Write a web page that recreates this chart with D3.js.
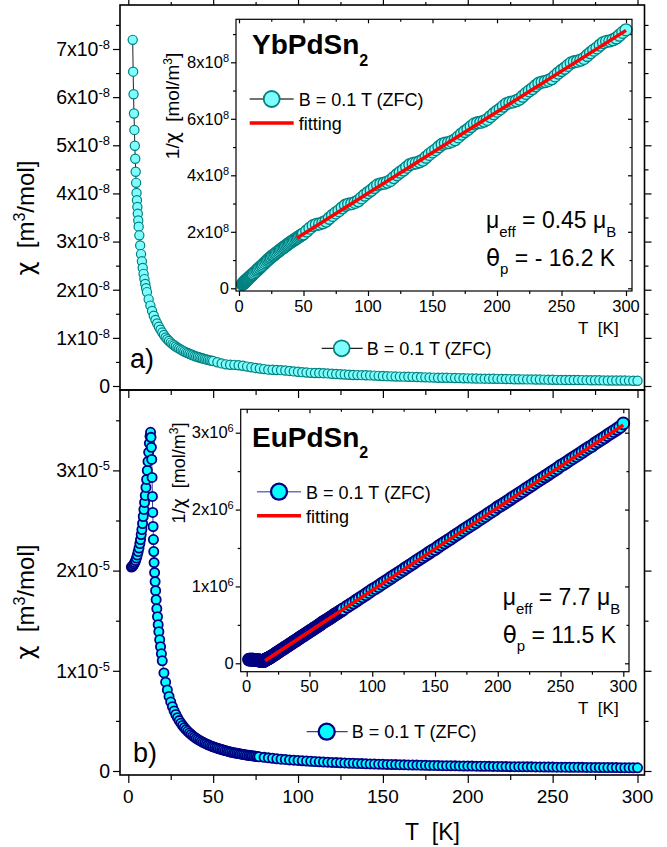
<!DOCTYPE html>
<html lang="en">
<head>
    <meta charset="UTF-8">
    <title>chi vs T</title>
    <style>
        body { margin: 0; background: #fff; }
        svg { display: block; font-family: "Liberation Sans", Arial, sans-serif; }
        .greek { font-family: "DejaVu Sans", sans-serif; }
    </style>
    <script src="https://d3js.org/d3.v7.min.js"></script>
</head>
<body>
    <div id="chart"></div>
    <script>
        // ---------- data ----------
        // temperature grids (K)
        const tMid = [21, 22, 23, 24, 25, 26, 27, 28, 29, 30, 31, 32, 33, 34, 35,
            36, 37, 38, 39, 40, 41, 42, 43, 44, 45, 46, 47, 48, 49, 50]
        const tHigh = [52.5, 55, 57.5, 60, 62.5, 65, 67.5, 70, 72.5, 75,
            77.5, 80, 82.5, 85, 87.5, 90, 92.5, 95, 97.5, 100,
            102.5, 105, 107.5, 110, 112.5, 115, 117.5, 120, 122.5, 125,
            127.5, 130, 132.5, 135, 137.5, 140, 142.5, 145, 147.5, 150,
            152.5, 155, 157.5, 160, 162.5, 165, 167.5, 170, 172.5, 175,
            177.5, 180, 182.5, 185, 187.5, 190, 192.5, 195, 197.5, 200,
            202.5, 205, 207.5, 210, 212.5, 215, 217.5, 220, 222.5, 225,
            227.5, 230, 232.5, 235, 237.5, 240, 242.5, 245, 247.5, 250,
            252.5, 255, 257.5, 260, 262.5, 265, 267.5, 270, 272.5, 275,
            277.5, 280, 282.5, 285, 287.5, 290, 292.5, 295, 297.5, 300]

        // YbPdSn2 : T (K), chi (x1e-8 m3/mol), 1/chi (x1e8 mol/m3)
        const ybT = [2.6, 2.85, 3.1, 3.35, 3.6, 3.85, 4.1, 4.35, 4.6, 4.85, 5.1, 5.35, 5.6, 5.85, 6.1,
            6.5, 7, 7.5, 8, 8.5, 9, 9.5, 10, 10.5, 11, 12, 13, 14, 15, 16, 17, 18, 19, 20].concat(tMid, tHigh)
        const ybChi = [7.19, 6.53, 6.06, 5.66, 5.32, 4.99, 4.72, 4.45, 4.22, 4.01, 3.86, 3.72, 3.58, 3.44, 3.31,
            3.13, 2.92, 2.74, 2.59, 2.45, 2.33, 2.22, 2.12, 2.03, 1.95, 1.80, 1.67, 1.56, 1.46, 1.37, 1.30, 1.23, 1.17, 1.11,
            1.06, 1.01, 0.971, 0.935, 0.901, 0.870, 0.847, 0.820, 0.797, 0.775, 0.755, 0.735, 0.717, 0.699, 0.685,
            0.669, 0.654, 0.639, 0.625, 0.613, 0.602, 0.592, 0.581, 0.571, 0.562, 0.552, 0.542, 0.533, 0.526, 0.518,
            0.493, 0.469, 0.450, 0.442, 0.439, 0.431, 0.420, 0.403, 0.388, 0.375,
            0.364, 0.351, 0.340, 0.336, 0.333, 0.329, 0.323, 0.313, 0.303, 0.295,
            0.288, 0.280, 0.273, 0.270, 0.269, 0.266, 0.262, 0.255, 0.249, 0.243,
            0.239, 0.233, 0.228, 0.226, 0.225, 0.223, 0.220, 0.216, 0.211, 0.207,
            0.204, 0.200, 0.196, 0.195, 0.194, 0.192, 0.190, 0.187, 0.183, 0.180,
            0.178, 0.175, 0.172, 0.171, 0.170, 0.169, 0.167, 0.164, 0.162, 0.159,
            0.157, 0.155, 0.153, 0.152, 0.152, 0.151, 0.149, 0.147, 0.145, 0.143,
            0.141, 0.139, 0.138, 0.137, 0.137, 0.136, 0.135, 0.133, 0.131, 0.130,
            0.128, 0.127, 0.125, 0.125, 0.124, 0.124, 0.123, 0.121, 0.120, 0.119,
            0.118, 0.116, 0.115, 0.114, 0.114, 0.114, 0.113, 0.112, 0.110, 0.109]
        const ybInv = [0.139, 0.153, 0.165, 0.177, 0.188, 0.200, 0.212, 0.225, 0.237, 0.249, 0.259, 0.269, 0.279, 0.291, 0.302,
            0.320, 0.342, 0.365, 0.386, 0.408, 0.429, 0.450, 0.472, 0.493, 0.513, 0.556, 0.599, 0.641, 0.685, 0.730, 0.769, 0.813, 0.855, 0.901,
            0.945, 0.99, 1.03, 1.07, 1.11, 1.15, 1.18, 1.22, 1.255, 1.29, 1.325, 1.36, 1.395, 1.43, 1.46,
            1.495, 1.53, 1.565, 1.60, 1.63, 1.66, 1.69, 1.72, 1.75, 1.78, 1.81, 1.845, 1.875, 1.90, 1.93,
            2.03, 2.13, 2.22, 2.26, 2.28, 2.32, 2.38, 2.48, 2.58, 2.67,
            2.75, 2.85, 2.94, 2.98, 3.00, 3.04, 3.10, 3.20, 3.30, 3.39,
            3.47, 3.57, 3.66, 3.70, 3.72, 3.76, 3.82, 3.92, 4.02, 4.11,
            4.19, 4.29, 4.38, 4.42, 4.44, 4.48, 4.54, 4.64, 4.74, 4.83,
            4.91, 5.01, 5.10, 5.14, 5.16, 5.20, 5.26, 5.36, 5.46, 5.55,
            5.63, 5.73, 5.82, 5.86, 5.88, 5.92, 5.98, 6.08, 6.18, 6.27,
            6.35, 6.45, 6.54, 6.58, 6.60, 6.64, 6.70, 6.80, 6.90, 6.99,
            7.07, 7.17, 7.26, 7.30, 7.32, 7.36, 7.42, 7.52, 7.62, 7.71,
            7.79, 7.89, 7.98, 8.02, 8.04, 8.08, 8.14, 8.24, 8.34, 8.43,
            8.51, 8.61, 8.70, 8.74, 8.76, 8.80, 8.86, 8.96, 9.06, 9.15]
        const ybFitT = [45, 300]
        const ybFitInv = [1.78, 9.13]

        // EuPdSn2 : T (K), chi (x1e-5 m3/mol), 1/chi (x1e6 mol/m3)
        const euT = [1.8, 2.3, 2.8, 3.3, 3.8, 4.3, 4.8, 5.3, 5.8, 6.3, 6.8, 7.2, 7.6, 8.0, 8.4, 8.8, 9.2, 9.6,
            10.0, 10.4, 10.8, 11.2, 11.6, 12.0, 12.4, 12.8, 13.1,
            13.4, 13.6, 13.8, 14.0, 14.2, 14.4, 14.6, 14.8, 15.0, 15.2, 15.5, 15.8, 16.1, 16.4, 16.8,
            17.2, 17.6, 18.0, 18.5, 19.0, 19.5, 20.0].concat(tMid,
            [51, 52, 53, 54, 55, 56, 57, 58, 59, 60, 61, 62, 63, 64, 65, 66, 67, 68, 69, 70, 71, 72, 73, 74, 75, 76, 77],
            tHigh.slice(11))
        const euChi = [2.035, 2.04, 2.05, 2.065, 2.08, 2.10, 2.125, 2.155, 2.19, 2.225, 2.27, 2.31, 2.36, 2.41, 2.47, 2.54, 2.61, 2.68,
            2.75, 2.83, 2.91, 3.00, 3.09, 3.18, 3.27, 3.34, 3.38,
            3.33, 3.23, 3.11, 2.93, 2.74, 2.58, 2.44, 2.31, 2.19, 2.08, 1.98, 1.89, 1.80, 1.71, 1.62,
            1.54, 1.46, 1.39, 1.31, 1.24, 1.17, 1.10,
            0.979, 0.886, 0.809, 0.744, 0.689, 0.642, 0.600, 0.564, 0.532, 0.503, 0.477, 0.454, 0.433, 0.413, 0.396,
            0.380, 0.365, 0.351, 0.338, 0.326, 0.315, 0.305, 0.295, 0.286, 0.278, 0.270, 0.262, 0.255, 0.248, 0.242,
            0.2355, 0.2297, 0.2241, 0.2189, 0.2138, 0.2090, 0.2044, 0.2000, 0.1958, 0.1905, 0.1868, 0.1832, 0.1806, 0.1772,
            0.1739, 0.1707, 0.1676, 0.1646, 0.1618, 0.1582, 0.1563, 0.1538, 0.1513, 0.1488, 0.1465, 0.1442, 0.1420,
            0.136, 0.131, 0.127, 0.122, 0.118, 0.115, 0.111, 0.108, 0.105,
            0.102, 0.0995, 0.0969, 0.0944, 0.0921, 0.0899, 0.0877, 0.0858, 0.0838, 0.0820,
            0.0802, 0.0785, 0.0769, 0.0753, 0.0738, 0.0724, 0.0710, 0.0697, 0.0684, 0.0672,
            0.0660, 0.0648, 0.0637, 0.0627, 0.0616, 0.0606, 0.0596, 0.0587, 0.0578, 0.0569,
            0.0560, 0.0552, 0.0544, 0.0536, 0.0529, 0.0521, 0.0514, 0.0507, 0.0500, 0.0494,
            0.0487, 0.0481, 0.0475, 0.0469, 0.0463, 0.0457, 0.0451, 0.0446, 0.0441, 0.0436,
            0.0431, 0.0426, 0.0421, 0.0416, 0.0412, 0.0407, 0.0403, 0.0398, 0.0394, 0.0390,
            0.0386, 0.0382, 0.0378, 0.0374, 0.0371, 0.0367, 0.0363, 0.0360, 0.0356, 0.0353,
            0.0350, 0.0347, 0.0343, 0.0340, 0.0337, 0.0334, 0.0331, 0.0328, 0.0325, 0.0322]
        const euInv = [0.0491, 0.0490, 0.0488, 0.0484, 0.0481, 0.0476, 0.0471, 0.0464, 0.0457, 0.0449, 0.0441, 0.0433, 0.0424, 0.0415, 0.0405, 0.0394, 0.0383, 0.0373,
            0.0364, 0.0353, 0.0344, 0.0333, 0.0324, 0.0314, 0.0306, 0.0299, 0.0296,
            0.0300, 0.0310, 0.0322, 0.0341, 0.0365, 0.0388, 0.0410, 0.0433, 0.0457, 0.0481, 0.0505, 0.0529, 0.0556, 0.0585, 0.0617,
            0.0649, 0.0685, 0.0719, 0.0763, 0.0806, 0.0855, 0.0909,
            0.102, 0.113, 0.124, 0.134, 0.145, 0.156, 0.167, 0.177, 0.188, 0.199, 0.210, 0.220, 0.231, 0.242, 0.253,
            0.263, 0.274, 0.285, 0.296, 0.306, 0.317, 0.328, 0.339, 0.349, 0.360, 0.371, 0.382, 0.392, 0.403, 0.414,
            0.425, 0.435, 0.446, 0.457, 0.468, 0.478, 0.489, 0.500, 0.511, 0.525, 0.536, 0.546, 0.554, 0.564,
            0.575, 0.586, 0.597, 0.607, 0.618, 0.632, 0.640, 0.650, 0.661, 0.672, 0.683, 0.693, 0.704,
            0.736, 0.763, 0.790, 0.817, 0.844, 0.871, 0.898, 0.925, 0.956,
            0.978, 1.005, 1.032, 1.059, 1.086, 1.113, 1.140, 1.166, 1.193, 1.220,
            1.247, 1.274, 1.301, 1.328, 1.355, 1.381, 1.408, 1.435, 1.462, 1.484,
            1.516, 1.543, 1.570, 1.596, 1.623, 1.650, 1.677, 1.704, 1.731, 1.758,
            1.785, 1.811, 1.838, 1.865, 1.892, 1.919, 1.946, 1.973, 2.000, 2.031,
            2.053, 2.080, 2.107, 2.134, 2.161, 2.188, 2.215, 2.241, 2.268, 2.295,
            2.322, 2.349, 2.376, 2.403, 2.430, 2.456, 2.483, 2.510, 2.537, 2.569,
            2.591, 2.618, 2.645, 2.671, 2.698, 2.725, 2.752, 2.779, 2.806, 2.829,
            2.860, 2.886, 2.913, 2.940, 2.967, 2.994, 3.021, 3.048, 3.075, 3.12]
        const euFitT = [14.6, 300]
        const euFitInv = [0.033, 3.10]

        // tick values
        const tMajor = [0, 50, 100, 150, 200, 250, 300]
        const tMinor = [25, 75, 125, 175, 225, 275]
        const ybChiMajor = [0, 1, 2, 3, 4, 5, 6, 7]
        const ybChiMinor = [0.5, 1.5, 2.5, 3.5, 4.5, 5.5, 6.5, 7.5]
        const euChiMajor = [0, 1, 2, 3]
        const euChiMinor = [0.5, 1.5, 2.5, 3.5]
        const ybInvMajor = [0, 2, 4, 6, 8]
        const ybInvMinor = [1, 3, 5, 7, 9]
        const euInvMajor = [0, 1, 2, 3]
        const euInvMinor = [0.5, 1.5, 2.5]

        const legendText = "B = 0.1 T (ZFC)"
        const nb = "\u00a0"

        // ---------- drawing ----------
        const svg = d3.select("#chart").append("svg").attr("width", 667).attr("height", 847)

        // main temperature axis, shared by both panels
        const x = d3.scaleLinear().domain([0, 300]).range([128.3, 637.5])

        function addTicks(g, scale, vals, side, pos, len) {
            const ax = side === "left" ? d3.axisLeft(scale) : side === "right" ? d3.axisRight(scale)
                : side === "top" ? d3.axisTop(scale) : d3.axisBottom(scale)
            ax.tickValues(vals).tickSize(len).tickFormat("")
            const tr = (side === "left" || side === "right") ? `translate(${pos},0)` : `translate(0,${pos})`
            const a = g.append("g").attr("transform", tr).call(ax)
            a.select(".domain").remove()
            a.selectAll("line").attr("stroke", "#000").attr("stroke-width", 1.2)
        }

        // "7x10^-8" style labels on a vertical axis
        function sciLabels(g, scale, vals, xEnd, size, exp, expSize, lift) {
            g.selectAll(null).data(vals).join("text")
                .attr("x", xEnd).attr("y", d => scale(d)).attr("dy", "0.35em")
                .attr("text-anchor", "end").attr("font-size", size)
                .each(function (d) {
                    const t = d3.select(this)
                    if (d === 0) { t.text("0"); return }
                    t.append("tspan").text(d + "x10")
                    t.append("tspan").attr("dy", -lift).attr("font-size", expSize).text(exp)
                })
        }

        function drawMain(o) {
            const g = svg.append("g")
            const f = o.frame
            const y = d3.scaleLinear().domain(o.yDomain).range(o.yRange)

            addTicks(g, y, o.yMajor, "left", f.l, 7)
            addTicks(g, y, o.yMinor.filter(v => y(v) > f.t), "left", f.l, 4)
            addTicks(g, y, o.yMajor, "right", f.r, 7)
            addTicks(g, y, o.yMinor.filter(v => y(v) > f.t), "right", f.r, 4)
            addTicks(g, x, tMajor, "bottom", f.b, 8)
            addTicks(g, x, tMinor, "bottom", f.b, 5)
            if (o.topTicks) {
                addTicks(g, x, tMajor, "top", f.t, 5)
                addTicks(g, x, tMinor, "top", f.t, 3)
            }
            sciLabels(g, y, o.yMajor, 110, 19.5, o.exp, 13, 7)

            if (o.xLabels) {
                g.selectAll(null).data(tMajor).join("text")
                    .attr("x", d => x(d)).attr("y", 803).attr("text-anchor", "middle")
                    .attr("font-size", 19).text(d => d)
                g.append("text").attr("x", 405).attr("y", 840).attr("font-size", 23)
                    .text("T" + nb + nb + "[K]")
            }

            // y axis title
            const yt = g.append("text").attr("transform", `translate(34,${o.yTitleY}) rotate(-90)`)
                .attr("text-anchor", "middle").attr("font-size", 24)
            yt.append("tspan").attr("class", "greek").text("\u03c7")
            yt.append("tspan").text(nb + nb + "[m")
            yt.append("tspan").attr("dy", -9).attr("font-size", 16).text("3")
            yt.append("tspan").attr("dy", 9).text("/mol]")

            // data
            const pts = o.T.map((t, i) => ({ t: t, v: o.chi[i] }))
            g.append("path").datum(pts)
                .attr("d", d3.line().x(d => x(d.t)).y(d => y(d.v)))
                .attr("fill", "none").attr("stroke", o.lineColor).attr("stroke-width", 1)
            g.selectAll(null).data(pts).join("circle")
                .attr("cx", d => x(d.t)).attr("cy", d => y(d.v)).attr("r", 4.6)
                .attr("fill", o.fill).attr("stroke", o.stroke).attr("stroke-width", o.sw)

            // legend
            const L = o.legend
            g.append("line").attr("x1", L.x - 20).attr("x2", L.x + 21).attr("y1", L.y).attr("y2", L.y)
                .attr("stroke", o.lineColor).attr("stroke-width", 1.2)
            g.append("circle").attr("cx", L.x).attr("cy", L.y).attr("r", 8)
                .attr("fill", o.fill).attr("stroke", o.stroke).attr("stroke-width", o.sw + 0.5)
            g.append("text").attr("x", L.x + 25).attr("y", L.y + 6.7).attr("font-size", 18).text(legendText)

            g.append("text").attr("x", o.tag.x).attr("y", o.tag.y).attr("font-size", 27).text(o.tag.text)

            g.append("rect").attr("x", f.l).attr("y", f.t).attr("width", f.r - f.l).attr("height", f.b - f.t)
                .attr("fill", "none").attr("stroke", "#000").attr("stroke-width", 1.6)
        }

        function drawInset(o) {
            const g = svg.append("g")
            const f = o.frame
            const xi = d3.scaleLinear().domain([0, 300]).range(o.xRange)
            const yi = d3.scaleLinear().domain(o.yDomain).range(o.yRange)

            g.append("rect").attr("x", f.l).attr("y", f.t).attr("width", f.r - f.l).attr("height", f.b - f.t)
                .attr("fill", "#fff")

            addTicks(g, yi, o.yMajor, "left", f.l, 5)
            addTicks(g, yi, o.yMinor, "left", f.l, 3)
            addTicks(g, yi, o.yMajor, "right", f.r, -4)
            addTicks(g, yi, o.yMinor, "right", f.r, -2.5)
            addTicks(g, xi, tMajor, "bottom", f.b, 5)
            addTicks(g, xi, tMinor, "bottom", f.b, 3)
            addTicks(g, xi, tMajor, "top", f.t, -4)
            addTicks(g, xi, tMinor, "top", f.t, -2.5)

            sciLabels(g, yi, o.yMajor, f.l - 7, 16.5, o.exp, 11, 6)
            g.selectAll(null).data(tMajor).join("text")
                .attr("x", d => xi(d)).attr("y", o.xLabelY).attr("text-anchor", "middle")
                .attr("font-size", 16.5).text(d => d)
            g.append("text").attr("x", 578).attr("y", o.xLabelY + 22).attr("font-size", 17)
                .text("T" + nb + nb + "[K]")

            const yt = g.append("text").attr("transform", `translate(${o.yTitle.x},${o.yTitle.y}) rotate(-90)`)
                .attr("text-anchor", "middle").attr("font-size", o.yTitle.size)
            yt.append("tspan").text("1/")
            yt.append("tspan").attr("class", "greek").text("\u03c7")
            yt.append("tspan").text(nb + nb + "[mol/m")
            yt.append("tspan").attr("dy", -7).attr("font-size", 12).text("3")
            yt.append("tspan").attr("dy", 7).text("]")

            // data points, then the fitted line on top
            const pts = o.T.map((t, i) => ({ t: t, v: o.inv[i] }))
            g.selectAll(null).data(pts).join("circle")
                .attr("cx", d => xi(d.t)).attr("cy", d => yi(d.v)).attr("r", 6)
                .attr("fill", o.fill).attr("stroke", o.stroke).attr("stroke-width", o.sw)
            g.append("line")
                .attr("x1", xi(o.fitT[0])).attr("y1", yi(o.fitInv[0]))
                .attr("x2", xi(o.fitT[1])).attr("y2", yi(o.fitInv[1]))
                .attr("stroke", "#ff0000").attr("stroke-width", 3.5)

            // title
            const tt = g.append("text").attr("x", o.title.x).attr("y", o.title.y)
                .attr("font-size", 28).attr("font-weight", "bold")
            tt.append("tspan").text(o.title.text)
            tt.append("tspan").attr("dy", 11.5).attr("font-size", 16).text("2")

            // legend
            const L = o.legend
            g.append("line").attr("x1", L.x - 22).attr("x2", L.x + 22).attr("y1", L.y).attr("y2", L.y)
                .attr("stroke", o.lineColor).attr("stroke-width", 1.5)
            g.append("circle").attr("cx", L.x).attr("cy", L.y).attr("r", 8)
                .attr("fill", o.fill).attr("stroke", o.stroke).attr("stroke-width", o.sw + 0.5)
            g.append("text").attr("x", L.x + 27).attr("y", L.y + 7).attr("font-size", 18).text(legendText)
            g.append("line").attr("x1", L.x - 22).attr("x2", L.x + 22).attr("y1", L.y + 24).attr("y2", L.y + 24)
                .attr("stroke", "#ff0000").attr("stroke-width", 3.5)
            g.append("text").attr("x", L.x + 27).attr("y", L.y + 31).attr("font-size", 18).text("fitting")

            // mu_eff and theta_p
            const m = g.append("text").attr("x", o.params.x).attr("y", o.params.y).attr("font-size", 23)
            m.append("tspan").text("\u03bc")
            m.append("tspan").attr("dy", 8.5).attr("font-size", 15).text("eff")
            m.append("tspan").attr("dy", -8.5).text(nb + "=" + nb + o.params.mu + nb + "\u03bc")
            m.append("tspan").attr("dy", 8.5).attr("font-size", 15).text("B")
            const th = g.append("text").attr("x", o.params.x).attr("y", o.params.y + 37.5).attr("font-size", 23)
            th.append("tspan").attr("class", "greek").text("\u03b8")
            th.append("tspan").attr("dy", 8.5).attr("font-size", 15).text("p")
            th.append("tspan").attr("dy", -8.5).text(nb + "=" + nb + o.params.theta)

            g.append("rect").attr("x", f.l).attr("y", f.t).attr("width", f.r - f.l).attr("height", f.b - f.t)
                .attr("fill", "none").attr("stroke", "#000").attr("stroke-width", 1.2)
        }

        // panel a) YbPdSn2
        drawMain({
            frame: { l: 120, r: 644.5, t: 5, b: 390 },
            yDomain: [0, 7], yRange: [386, 49], yMajor: ybChiMajor, yMinor: ybChiMinor, exp: "-8",
            T: ybT, chi: ybChi, fill: "#7ffcfc", stroke: "#008080", sw: 1.2, lineColor: "#222",
            topTicks: true, xLabels: false, yTitleY: 218,
            legend: { x: 341.7, y: 348.3 }, tag: { x: 130, y: 368, text: "a)" }
        })
        // panel b) EuPdSn2
        drawMain({
            frame: { l: 120, r: 644.5, t: 390, b: 775 },
            yDomain: [0, 3], yRange: [771, 470.4], yMajor: euChiMajor, yMinor: euChiMinor, exp: "-5",
            T: euT, chi: euChi, fill: "#00ffff", stroke: "#000080", sw: 1.8, lineColor: "#3a3aa0",
            topTicks: false, xLabels: true, yTitleY: 602,
            legend: { x: 326.7, y: 731.7 }, tag: { x: 133, y: 762, text: "b)" }
        })

        drawInset({
            frame: { l: 236, r: 632, t: 19.3, b: 291 },
            xRange: [239, 626], yDomain: [0, 8], yRange: [288.3, 62.3],
            yMajor: ybInvMajor, yMinor: ybInvMinor, exp: "8", xLabelY: 311.5,
            yTitle: { x: 179, y: 106, size: 19 },
            T: ybT, inv: ybInv, fitT: ybFitT, fitInv: ybFitInv,
            fill: "#7ffcfc", stroke: "#008080", sw: 1.3, lineColor: "#444",
            title: { x: 252, y: 54.3, text: "YbPdSn" },
            legend: { x: 271.7, y: 99 },
            params: { x: 486, y: 228, mu: "0.45", theta: "-" + nb + "16.2" + nb + "K" }
        })

        drawInset({
            frame: { l: 240.7, r: 629, t: 409.3, b: 671.7 },
            xRange: [246.7, 623.3], yDomain: [0, 3], yRange: [663.3, 432.7],
            yMajor: euInvMajor, yMinor: euInvMinor, exp: "6", xLabelY: 691.7,
            yTitle: { x: 185, y: 473, size: 18 },
            T: euT, inv: euInv, fitT: euFitT, fitInv: euFitInv,
            fill: "#00ffff", stroke: "#000080", sw: 1.8, lineColor: "#7070c8",
            title: { x: 252, y: 446.7, text: "EuPdSn" },
            legend: { x: 279, y: 491.7 },
            params: { x: 502.7, y: 605, mu: "7.7", theta: "11.5" + nb + "K" }
        })
    </script>
</body>
</html>
